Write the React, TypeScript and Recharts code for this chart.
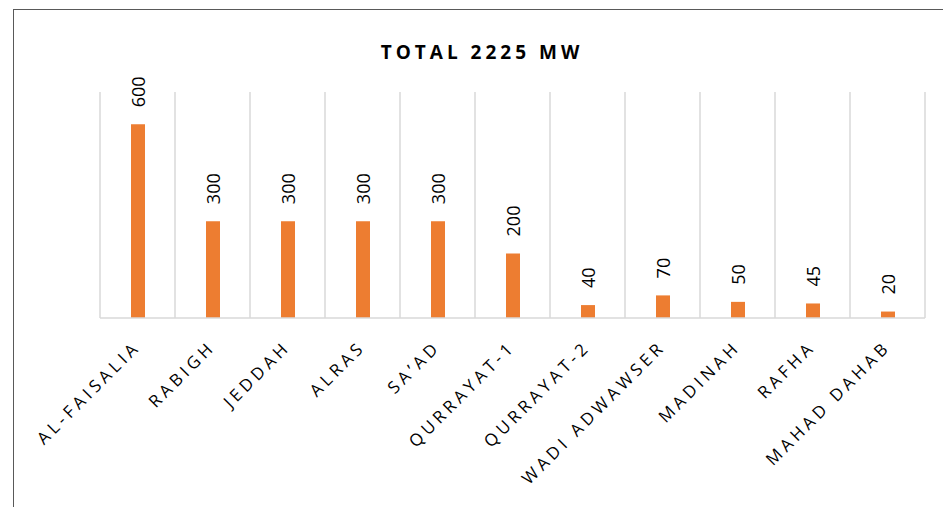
import React from "react";
import { BarChart, Bar, XAxis, YAxis, CartesianGrid, LabelList } from "recharts";

const plants = [
  "AL-FAISALIA",
  "RABIGH",
  "JEDDAH",
  "ALRAS",
  "SA\u2019AD",
  "QURRAYAT-1",
  "QURRAYAT-2",
  "WADI ADWAWSER",
  "MADINAH",
  "RAFHA",
  "MAHAD DAHAB",
];
const capacityMW = [600, 300, 300, 300, 300, 200, 40, 70, 50, 45, 20];
const chartTitle = "TOTAL 2225 MW";

const data = plants.map((name, i) => ({ name, mw: capacityMW[i] }));

const FONT = "'Open Sans', sans-serif";

const CategoryTick = (props: any) => {
  const { x, y, payload } = props;
  return (
    <g transform={`translate(${x + 4},${y + 22}) rotate(-45)`}>
      <text
        x={0}
        y={0}
        textAnchor="end"
        fontFamily={FONT}
        fontSize={17}
        letterSpacing={4}
        fill="#000"
      >
        {payload.value}
      </text>
    </g>
  );
};

const ValueLabel = (props: any) => {
  const { x, y, width, value } = props;
  const cx = x + width / 2;
  return (
    <text
      transform={`translate(${cx},${y - 17}) rotate(-90)`}
      textAnchor="start"
      dominantBaseline="central"
      fontFamily={FONT}
      fontSize={18}
      fill="#000"
    >
      {value}
    </text>
  );
};

export default function App() {
  return (
    <div style={{ position: "relative", width: 943, height: 499 }}>
      <div
        style={{
          position: "absolute",
          left: 5,
          top: 1,
          right: 0,
          bottom: 0,
          borderTop: "1.5px solid #595959",
          borderLeft: "1.5px solid #595959",
        }}
      />
      <BarChart
        width={943}
        height={499}
        data={data}
        margin={{ top: 84, right: 26, left: 92, bottom: 0 }}
        barCategoryGap={0}
        style={{ position: "absolute", left: 0, top: 0 }}
      >
        <text
          x={474}
          y={44}
          textAnchor="middle"
          dominantBaseline="central"
          fontFamily={FONT}
          fontSize={19}
          fontWeight="bold"
          letterSpacing={4}
          fill="#000"
        >
          {chartTitle}
        </text>
        <CartesianGrid
          horizontal={false}
          stroke="#d9d9d9"
          strokeWidth={1.5}
          verticalCoordinatesGenerator={({ offset }: any) =>
            plants
              .map((_, i) => offset.left + (i * offset.width) / plants.length)
              .concat(offset.left + offset.width)
          }
        />
        <XAxis
          dataKey="name"
          interval={0}
          height={189}
          tickLine={false}
          axisLine={{ stroke: "#d9d9d9", strokeWidth: 1.5 }}
          tick={<CategoryTick />}
        />
        <YAxis hide type="number" domain={[0, 700]} />
        <Bar dataKey="mw" fill="#ED7D31" barSize={14} isAnimationActive={false}>
          <LabelList dataKey="mw" content={<ValueLabel />} />
        </Bar>
      </BarChart>
    </div>
  );
}
